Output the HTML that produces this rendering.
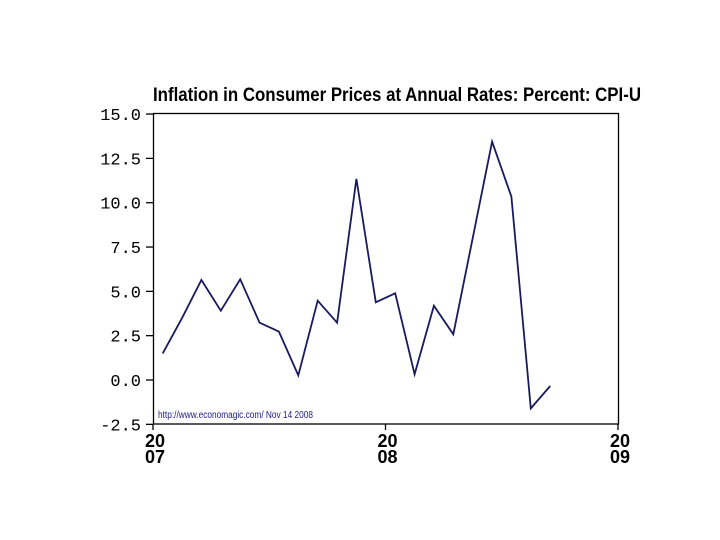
<!DOCTYPE html>
<html><head><meta charset="utf-8"><style>
body{margin:0;background:#fff;}
svg{display:block;}
</style></head><body>
<svg id="chart" width="720" height="540" xmlns="http://www.w3.org/2000/svg">
<rect width="720" height="540" fill="#fff"/>
<text x="153" y="101" font-family="'Liberation Sans Narrow','Liberation Sans',sans-serif" font-weight="bold" font-size="19" textLength="488" lengthAdjust="spacingAndGlyphs">Inflation in Consumer Prices at Annual Rates: Percent: CPI-U</text>
<rect x="153.5" y="113.5" width="465" height="310.5" fill="none" stroke="#000" stroke-width="1.3"/>
<g id="yaxis"></g>
<g id="xaxis"></g>
<text x="158" y="418" font-family="'Liberation Sans Narrow','Liberation Sans',sans-serif" font-size="10.5" fill="#1a1a80" textLength="155" lengthAdjust="spacingAndGlyphs">http://www.economagic.com/   Nov 14 2008</text>
<polyline id="line" fill="none" stroke="#1a1a5e" stroke-width="1.8" stroke-linejoin="miter"/>
</svg>
<script>
const yTicks=[15.0,12.5,10.0,7.5,5.0,2.5,0.0,-2.5];
const yTickLabels=["15.0","12.5","10.0","7.5","5.0","2.5","0.0","-2.5"];
const xTickYears=[2007,2008,2009];
const xTop=["20","20","20"];
const xBottom=["07","08","09"];
const monthIndex=[0,1,2,3,4,5,6,7,8,9,10,11,12,13,14,15,16,17,18,19,20];
const cpiValues=[1.5,3.5,5.64,3.91,5.68,3.23,2.73,0.26,4.47,3.23,11.34,4.38,4.89,0.32,4.19,2.58,8.0,13.44,10.34,-1.6,-0.34];
const NS="http://www.w3.org/2000/svg";
function yPos(v){return 380-(v*17.73);}
function xYear(y){return 153+(y-2007)*232.5;}
function xMonth(i){return xYear(2007+(i+0.5)/12);}
const ya=document.getElementById('yaxis');
yTicks.forEach((v,i)=>{
  const y=yPos(v);
  const t=document.createElementNS(NS,'line');
  
  
  t.setAttribute('x1',146);t.setAttribute('x2',153);t.setAttribute('y1',y);t.setAttribute('y2',y);
  t.setAttribute('stroke','#000');t.setAttribute('stroke-width','1.3');
  ya.appendChild(t);
  const l=document.createElementNS(NS,'text');
  
  
  l.setAttribute('x',141);l.setAttribute('y',y+6);l.setAttribute('text-anchor','end');
  l.setAttribute('font-family',"'Liberation Mono',monospace");l.setAttribute('font-size','17');
  l.textContent=yTickLabels[i];
  ya.appendChild(l);
});
const xa=document.getElementById('xaxis');
xTickYears.forEach((yr,i)=>{
  const x=xYear(yr);
  const t=document.createElementNS(NS,'line');
  
  
  t.setAttribute('x1',x);t.setAttribute('x2',x);t.setAttribute('y1',424);t.setAttribute('y2',430);
  t.setAttribute('stroke','#000');t.setAttribute('stroke-width','1.3');
  xa.appendChild(t);
  [[xTop[i],447],[xBottom[i],463]].forEach(([s,yy])=>{
    const l=document.createElementNS(NS,'text');
    
    
    l.setAttribute('x',x-8);l.setAttribute('y',yy);
    l.setAttribute('font-family',"'Liberation Sans Narrow','Liberation Sans',sans-serif");
    l.setAttribute('font-weight','bold');l.setAttribute('font-size','18');
    l.textContent=s;
    xa.appendChild(l);
  });
});
document.getElementById('line').setAttribute('points',cpiValues.map((v,i)=>xMonth(monthIndex[i]).toFixed(1)+','+yPos(v).toFixed(1)).join(' '));
</script>
</body></html>
